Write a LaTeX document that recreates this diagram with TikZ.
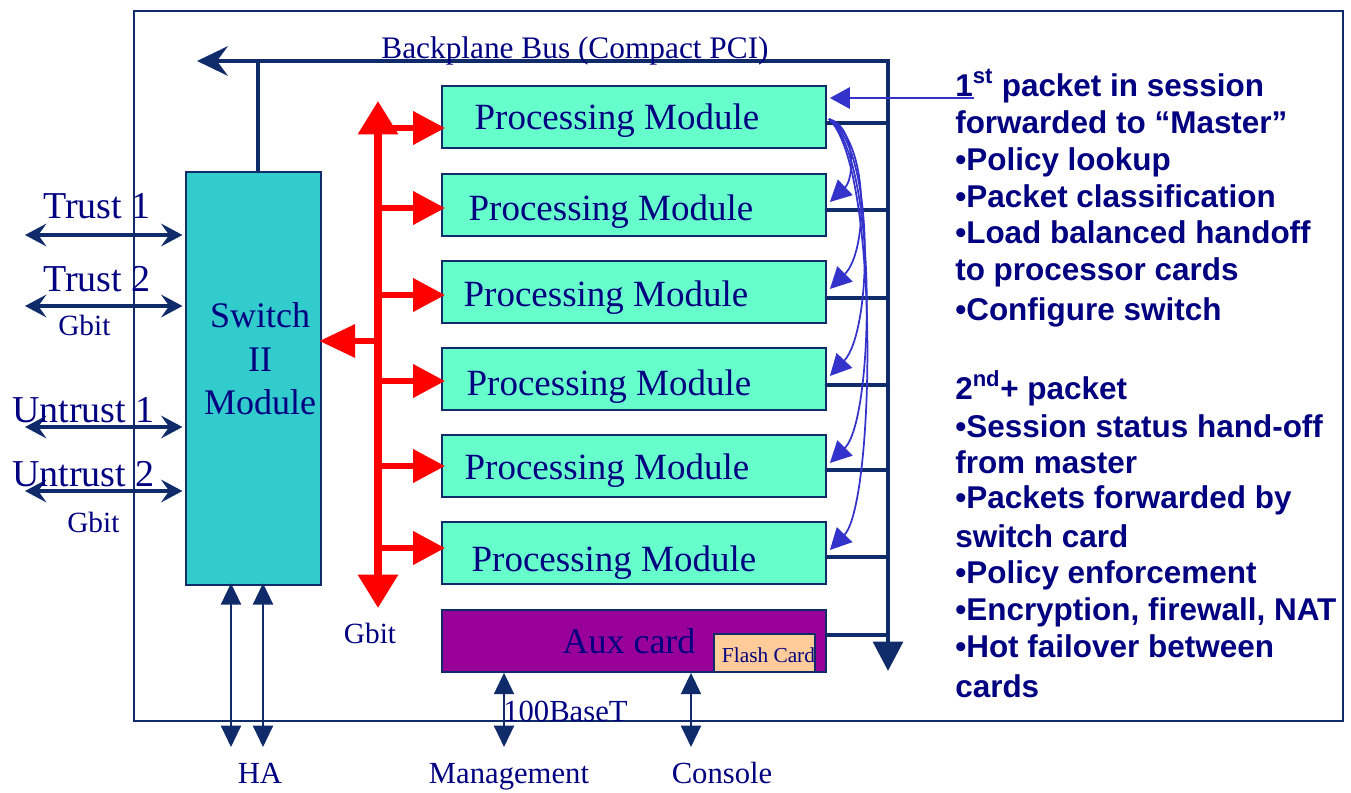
\documentclass[tikz,border=0pt]{standalone}
\usepackage{fontspec}
\setmainfont{Liberation Serif}
\newfontfamily\arialfont{Liberation Sans}
\usetikzlibrary{arrows.meta,calc}
\definecolor{navyline}{HTML}{0F2B6A}
\definecolor{navytext}{HTML}{000080}
\definecolor{swfill}{HTML}{33CCCC}
\definecolor{pmfill}{HTML}{66FFCC}
\definecolor{auxfill}{HTML}{990099}
\definecolor{flashfill}{HTML}{FFCC99}
\definecolor{curveblue}{HTML}{3333CC}
\definecolor{redarrow}{HTML}{FF0000}
\newcommand\pmtext[2]{\hspace*{-#1pt}\raisebox{-#2pt}[\height][\depth]{Processing Module}}
\begin{document}
\begin{tikzpicture}[x=0.75pt,y=-0.75pt,
  box/.style={draw=navyline,line width=1.3pt,inner sep=0pt,text=navytext},
  module/.style={box,fill=pmfill,minimum width=288pt,minimum height=46.5pt,font=\fontsize{27.75}{30}\selectfont},
  bus/.style={draw=navyline,line width=3.7pt},
  stub/.style={draw=navyline,line width=3.2pt,line cap=round},
  redl/.style={draw=redarrow,fill=redarrow,line width=5pt},
  redtip/.style={-{Triangle[length=24pt,width=24pt]}},
  dbl/.style={draw=navyline,line width=2.3pt,{Stealth[length=16pt,width=17pt,inset=6pt]}-{Stealth[length=16pt,width=17pt,inset=6pt]}},
  vdbl/.style={draw=navyline,line width=1.6pt,{Triangle[length=16pt,width=15pt]}-{Triangle[length=16pt,width=15pt]}},
  curve/.style={draw=curveblue,line width=1.3pt,-{Triangle[length=16pt,width=16pt]}},
  lbl/.style={text=navytext,inner sep=0pt},
  big/.style={font=\fontsize{28.5}{30}\selectfont},
  small/.style={font=\fontsize{23}{26}\selectfont},
  rtext/.style={text=navytext,inner sep=0pt,anchor=base west,font=\arialfont\bfseries\fontsize{23.6}{28}\selectfont}
]
\useasboundingbox (0,0) rectangle (1351,792);
% frame
\draw[navyline,line width=1.3pt] (134,11) rectangle (1343,721);

% boxes
\node[box,fill=swfill,minimum width=101.25pt,minimum height=309.75pt,font=\fontsize{27}{32.5}\selectfont] (sw) at (253.5,378.5)
  {\hspace*{10pt}\raisebox{12pt}[\height][\depth]{\begin{tabular}{@{}c@{}}Switch\\II\\Module\end{tabular}}};
\node[module] (pm1) at (634,117) {\pmtext{25.5}{3.1}};
\node[module] (pm2) at (634,205) {\pmtext{34.5}{5}};
\node[module] (pm3) at (634,292) {\pmtext{42}{4.2}};
\node[module] (pm4) at (634,379) {\pmtext{37.5}{6.1}};
\node[module] (pm5) at (634,466) {\pmtext{40.5}{3.5}};
\node[module] (pm6) at (634,553) {\pmtext{30}{7.6}};
\node[box,fill=auxfill,minimum width=288pt,minimum height=46.5pt,font=\fontsize{27}{30}\selectfont] (aux) at (634,641) {\hspace*{-7.5pt}Aux card};
\node[box,fill=flashfill,minimum width=75.75pt,minimum height=28.5pt,font=\fontsize{16}{18}\selectfont] (flash) at (764.5,653) {\hspace*{6pt}\raisebox{-1.5pt}[\height][\depth]{Flash Card}};

% backplane bus
\coordinate (bl) at (197,61);
\coordinate (bt) at (888,61);
\coordinate (bb) at (888,671);
\draw[bus,line join=miter,{Stealth[length=23pt,width=22pt,inset=8pt]}-{Triangle[length=22pt,width=22pt]}] (bl) -- (bt) -- (bb);
\coordinate (swj) at (258,61);
\draw[stub] (swj) -- (swj |- sw.north);
\foreach \m/\dy in {pm1/6,pm2/5,pm3/6,pm4/6,pm5/4,pm6/4,aux/-6}{
  \path ($(\m.east)+(0,\dy)$) coordinate (s-\m);
  \draw[stub] (s-\m) -- (s-\m -| bt);
}
\node[lbl,anchor=base,font=\fontsize{23.5}{26}\selectfont] (bpl) at (575,59) {Backplane Bus (Compact PCI)};

% red Gbit bus
\coordinate (rt) at (378,101);
\coordinate (rb) at (378,608);
\draw[redl,line width=5.5pt,{Triangle[length=25pt,width=29pt]}-{Triangle[length=25pt,width=29pt]}] (rt) -- (rb);
\foreach \m/\yy in {pm1/128,pm2/208,pm3/295,pm4/381,pm5/466,pm6/548}{
  \coordinate (r-\m) at (378,\yy);
  \draw[redl,redtip,shorten >=-3pt] (r-\m) -- (r-\m -| \m.west);
}
\coordinate (rs) at (380,341);
\draw[redl,-{Triangle[length=27pt,width=24pt]},shorten >=-2pt] (rs) -- (rs -| sw.east);
\node[lbl,anchor=base,font=\fontsize{22}{26}\selectfont] (gb3) at (370,643) {Gbit};

% left ports
\foreach \n/\yy in {t1/235,t2/306,u1/427,u2/491}{
  \coordinate (\n) at (25,\yy);
  \draw[dbl,shorten >=2pt] (\n) -- (\n -| sw.west);
}
\node[lbl,big,anchor=base west] (lt1) at (43,218) {Trust 1};
\node[lbl,big,anchor=base west] (lt2) at (43,291) {Trust 2};
\node[lbl,big,anchor=base west] (lu1) at (12,422) {Untrust 1};
\node[lbl,big,anchor=base west] (lu2) at (12,486) {Untrust 2};
\node[lbl,anchor=base west,font=\fontsize{22}{26}\selectfont] (gb1) at (58,335) {Gbit};
\node[lbl,anchor=base west,font=\fontsize{22}{26}\selectfont] (gb2) at (67,532) {Gbit};

% bottom ports
\coordinate (ha1) at (231,747);
\coordinate (ha2) at (263,747);
\coordinate (mg) at (504,747);
\coordinate (co) at (691,747);
\draw[vdbl,shorten >=-2pt] (ha1) -- (ha1 |- sw.south);
\draw[vdbl,shorten >=-2pt] (ha2) -- (ha2 |- sw.south);
\draw[vdbl] (mg) -- (mg |- aux.south);
\draw[vdbl] (co) -- (co |- aux.south);
\node[lbl,small,anchor=base] (lha) at (260,783) {HA};
\node[lbl,small,anchor=base] (lmg) at (509,783) {Management};
\node[lbl,small,anchor=base] (lco) at (722,783) {Console};
\node[lbl,small,anchor=base west] (l100) at (503,721) {100BaseT};

% master hand-off curves
\coordinate (cs) at (829,119);
\foreach \m in {pm2,pm3,pm4,pm5,pm6}{\path ($(\m.east)+(3,-3)$) coordinate (c-\m);}
\draw[curve] (cs) .. controls (855,126) and (855,178) .. (c-pm2);
\draw[curve] (cs) .. controls (869,138) and (869,250) .. (c-pm3);
\draw[curve] (cs) .. controls (875,148) and (873,330) .. (c-pm4);
\draw[curve] (cs) .. controls (878,158) and (875,418) .. (c-pm5);
\draw[curve] (cs) .. controls (880,168) and (875,503) .. (c-pm6);
\coordinate (ta) at (974,98);
\draw[curve,line width=1.6pt,-{Triangle[length=15pt,width=16pt]}] (ta) -- ($(ta -| pm1.east)+(3,0)$);

% right text
\node[rtext] (r1) at (955,96) {1\textsuperscript{st} packet in session};
\node[rtext] (r2) at (955,133) {forwarded to “Master”};
\node[rtext] (r3) at (955,170) {•Policy lookup};
\node[rtext] (r4) at (955,207) {•Packet classification};
\node[rtext] (r5) at (955,243) {•Load balanced handoff};
\node[rtext] (r6) at (955,280) {to processor cards};
\node[rtext] (r7) at (955,320) {•Configure switch};
\node[rtext] (r8) at (955,399) {2\textsuperscript{nd}+ packet};
\node[rtext] (r9) at (955,437) {•Session status hand-off};
\node[rtext] (r10) at (955,473) {from master};
\node[rtext] (r11) at (955,508) {•Packets forwarded by};
\node[rtext] (r12) at (955,547) {switch card};
\node[rtext] (r13) at (955,583) {•Policy enforcement};
\node[rtext] (r14) at (955,620) {•Encryption, firewall, NAT};
\node[rtext] (r15) at (955,657) {•Hot failover between};
\node[rtext] (r16) at (955,697) {cards};
\end{tikzpicture}
\end{document}
